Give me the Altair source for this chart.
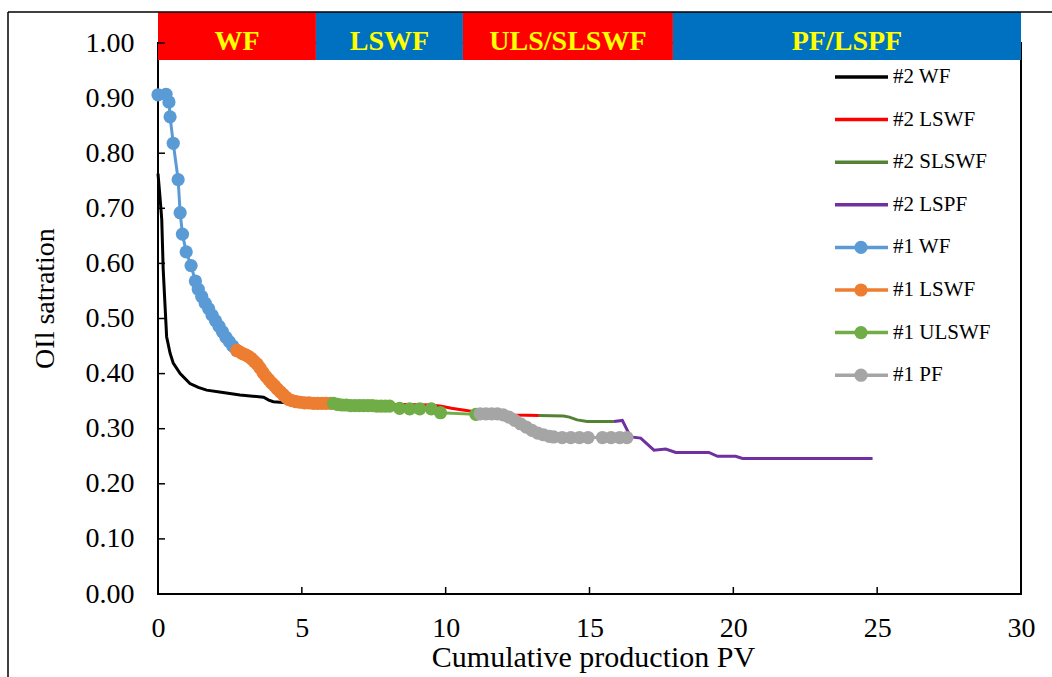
import altair as alt
import pandas as pd

FONT = "Liberation Serif"

# ---- core #2: one continuous run, split by flooding phase ----
s2_wf_x = [0.00, 0.07, 0.13, 0.18, 0.24, 0.30, 0.42, 0.53, 0.77, 1.11, 1.40, 1.69, 2.20, 2.85, 3.30, 3.67, 3.85, 4.01, 4.50, 5.00, 5.45]
s2_wf_y = [0.763, 0.720, 0.680, 0.590, 0.528, 0.467, 0.437, 0.419, 0.400, 0.382, 0.375, 0.370, 0.366, 0.361, 0.359, 0.357, 0.352, 0.349, 0.347, 0.346, 0.345]

s2_lswf_x = [5.45, 7.00, 8.50, 9.50, 9.85, 10.20, 10.60, 11.00, 11.50, 12.00, 12.40, 13.24]
s2_lswf_y = [0.345, 0.344, 0.344, 0.343, 0.341, 0.337, 0.334, 0.331, 0.328, 0.326, 0.325, 0.324]

s2_slswf_x = [13.24, 14.10, 14.30, 14.57, 14.92, 15.73, 15.85]
s2_slswf_y = [0.324, 0.323, 0.321, 0.316, 0.313, 0.313, 0.313]

s2_lspf_x = [15.85, 16.14, 16.43, 16.78, 17.24, 17.65, 18.00, 19.15, 19.45, 20.08, 20.32, 21.65, 24.84]
s2_lspf_y = [0.313, 0.315, 0.285, 0.283, 0.261, 0.263, 0.257, 0.257, 0.250, 0.250, 0.246, 0.246, 0.246]

# ---- core #1: measured points, one series per phase ----
s1_wf_x = [0.00, 0.28, 0.38, 0.42, 0.53, 0.70, 0.77, 0.85, 0.98, 1.15, 1.30, 1.40, 1.52, 1.64, 1.76, 1.88,
           2.00, 2.12, 2.24, 2.36, 2.48, 2.60, 2.74]
s1_wf_y = [0.906, 0.907, 0.893, 0.866, 0.818, 0.752, 0.692, 0.653, 0.621, 0.596, 0.568, 0.553, 0.540, 0.528,
           0.518, 0.506, 0.496, 0.486, 0.476, 0.466, 0.458, 0.450, 0.442]

s1_lswf_x = [2.74, 2.85, 2.95, 3.05, 3.15, 3.25, 3.35, 3.45, 3.55, 3.65, 3.75, 3.85, 3.95, 4.05, 4.15, 4.25,
             4.35, 4.45, 4.55, 4.65, 4.80, 4.95, 5.10, 5.25, 5.40, 5.55, 5.70, 5.85, 6.00]
s1_lswf_y = [0.442, 0.439, 0.436, 0.434, 0.431, 0.427, 0.422, 0.417, 0.410, 0.402, 0.395, 0.389, 0.383, 0.378,
             0.372, 0.367, 0.362, 0.357, 0.353, 0.351, 0.349, 0.348, 0.347, 0.347, 0.346, 0.346, 0.346, 0.346, 0.346]

s1_ulswf_x = [6.10, 6.25, 6.40, 6.55, 6.70, 6.85, 7.00, 7.15, 7.30, 7.45, 7.60, 7.75, 7.90, 8.05, 8.40, 8.75,
              9.10, 9.50, 9.82, 11.05]
s1_ulswf_y = [0.346, 0.344, 0.343, 0.343, 0.342, 0.342, 0.342, 0.342, 0.342, 0.342, 0.341, 0.341, 0.341, 0.341,
              0.337, 0.336, 0.336, 0.336, 0.329, 0.326]

s1_pf_x = [11.20, 11.40, 11.60, 11.80, 12.00, 12.20, 12.40, 12.60, 12.80, 13.00, 13.20, 13.40, 13.60, 13.75,
           14.05, 14.35, 14.65, 14.95, 15.45, 15.75, 16.05, 16.30]
s1_pf_y = [0.327, 0.327, 0.327, 0.327, 0.325, 0.321, 0.315, 0.309, 0.303, 0.297, 0.292, 0.289, 0.286, 0.285,
           0.284, 0.284, 0.284, 0.284, 0.284, 0.284, 0.284, 0.284]

# name, colour, drawn with markers, x, y  (drawing / legend order)
series = [
    ("#2 WF", "#000000", False, s2_wf_x, s2_wf_y),
    ("#2 LSWF", "#FF0000", False, s2_lswf_x, s2_lswf_y),
    ("#2 SLSWF", "#548235", False, s2_slswf_x, s2_slswf_y),
    ("#2 LSPF", "#7030A0", False, s2_lspf_x, s2_lspf_y),
    ("#1 WF", "#5B9BD5", True, s1_wf_x, s1_wf_y),
    ("#1 LSWF", "#ED7D31", True, s1_lswf_x, s1_lswf_y),
    ("#1 ULSWF", "#70AD47", True, s1_ulswf_x, s1_ulswf_y),
    ("#1 PF", "#A5A5A5", True, s1_pf_x, s1_pf_y),
]

# ---- phase banner along the top ----
phase_names = ["WF", "LSWF", "ULS/SLSWF", "PF/LSPF"]
phase_start = [0.0, 5.49, 10.60, 17.90]
phase_end = [5.49, 10.60, 17.90, 30.0]
phase_fill = ["#FF0000", "#0070C0", "#FF0000", "#0070C0"]

x_ticks = [0, 5, 10, 15, 20, 25, 30]
y_ticks = [0.0, 0.1, 0.2, 0.3, 0.4, 0.5, 0.6, 0.7, 0.8, 0.9, 1.0]

W, H = 863, 551
DOT = 175

x_scale = alt.Scale(domain=[0, 30], nice=False, zero=False)
y_scale = alt.Scale(domain=[0, 1], nice=False, zero=False)

x_axis = alt.Axis(values=x_ticks, grid=False, ticks=False, domain=False,
                  labelFont=FONT, labelFontSize=28, labelColor="black", labelPadding=20,
                  labelFlush=False, labelOverlap=False,
                  title="Cumulative production PV", titleFont=FONT, titleFontSize=30,
                  titleFontWeight="normal", titleColor="black",
                  titleX=435, titleY=63, titleBaseline="middle", titleAlign="center")
y_axis = alt.Axis(values=y_ticks, format=".2f", grid=False, ticks=False, domain=False,
                  labelFont=FONT, labelFontSize=28, labelColor="black", labelPadding=24,
                  labelOverlap=False,
                  title="OIl satration", titleFont=FONT, titleFontSize=28,
                  titleFontWeight="normal", titleColor="black",
                  titleX=-113, titleY=255, titleBaseline="middle", titleAlign="center", titleAngle=-90)

def xy():
    return dict(x=alt.X("x:Q", scale=x_scale, axis=x_axis),
                y=alt.Y("y:Q", scale=y_scale, axis=y_axis))

layers = []

# banner
phase_df = pd.DataFrame({"name": phase_names, "x0": phase_start, "x1": phase_end, "fill": phase_fill})
banner = alt.Chart(phase_df).mark_rect().encode(
    x=alt.X("x0:Q", scale=x_scale, axis=x_axis), x2="x1:Q",
    y=alt.value(-31), y2=alt.value(17),
    color=alt.Color("fill:N", scale=None),
)
banner_text = alt.Chart(phase_df).transform_calculate(
    xm="(datum.x0 + datum.x1) / 2"
).mark_text(font=FONT, fontSize=28, fontWeight="bold", color="#FFFF00",
            baseline="alphabetic", align="center").encode(
    x=alt.X("xm:Q", scale=x_scale, axis=x_axis), y=alt.value(7), text="name:N",
)
layers += [banner, banner_text]

# inward tick marks
xt = alt.Chart(pd.DataFrame({"t": x_ticks})).mark_rule(color="black", strokeWidth=1.5).encode(
    x=alt.X("t:Q", scale=x_scale, axis=x_axis), y=alt.value(H), y2=alt.value(H - 7))
yt = alt.Chart(pd.DataFrame({"t": y_ticks})).mark_rule(color="black", strokeWidth=1.5).encode(
    y=alt.Y("t:Q", scale=y_scale, axis=y_axis), x=alt.value(0), x2=alt.value(7))
layers += [xt, yt]

# data series
for name, color, marker, xs, ys in series:
    df = pd.DataFrame({"x": xs, "y": ys, "i": range(len(xs))})
    base = alt.Chart(df)
    layers.append(base.mark_line(color=color, strokeWidth=3).encode(order="i:Q", **xy()))
    if marker:
        layers.append(base.mark_circle(color=color, size=DOT, opacity=1).encode(**xy()))

# legend
leg_df = pd.DataFrame({
    "label": [s[0] for s in series],
    "color": [s[1] for s in series],
    "marker": [s[2] for s in series],
    "row": list(range(len(series))),
})
leg = alt.Chart(leg_df).transform_calculate(ly="34 + datum.row * 42.6")
layers.append(leg.mark_rule(strokeWidth=3.5).encode(
    x=alt.value(677), x2=alt.value(730), y=alt.Y("ly:Q", scale=None, axis=None),
    color=alt.Color("color:N", scale=None)))
layers.append(leg.transform_filter("datum.marker").mark_circle(size=DOT, opacity=1).encode(
    x=alt.value(703), y=alt.Y("ly:Q", scale=None, axis=None),
    color=alt.Color("color:N", scale=None)))
layers.append(leg.mark_text(font=FONT, fontSize=21, align="left", baseline="middle", color="black").encode(
    x=alt.value(735), y=alt.Y("ly:Q", scale=None, axis=None), text="label:N"))

# outer frame around the figure
frame = pd.DataFrame({"k": [0]})
layers.append(alt.Chart(frame).mark_rule(color="black", strokeWidth=1.5).encode(
    x=alt.value(-150), x2=alt.value(W + 40), y=alt.value(-31)))
layers.append(alt.Chart(frame).mark_rule(color="black", strokeWidth=1.5).encode(
    x=alt.value(-150), y=alt.value(-31), y2=alt.value(H + 90)))

chart = alt.layer(*layers).properties(
    width=W, height=H,
    autosize=alt.AutoSizeParams(type="none"),
    padding={"left": 158, "top": 43, "right": 31, "bottom": 83},
    background="white",
).configure_view(stroke="black", strokeWidth=2)

chart.save("out.html", embed_options={"renderer": "svg", "actions": False})
